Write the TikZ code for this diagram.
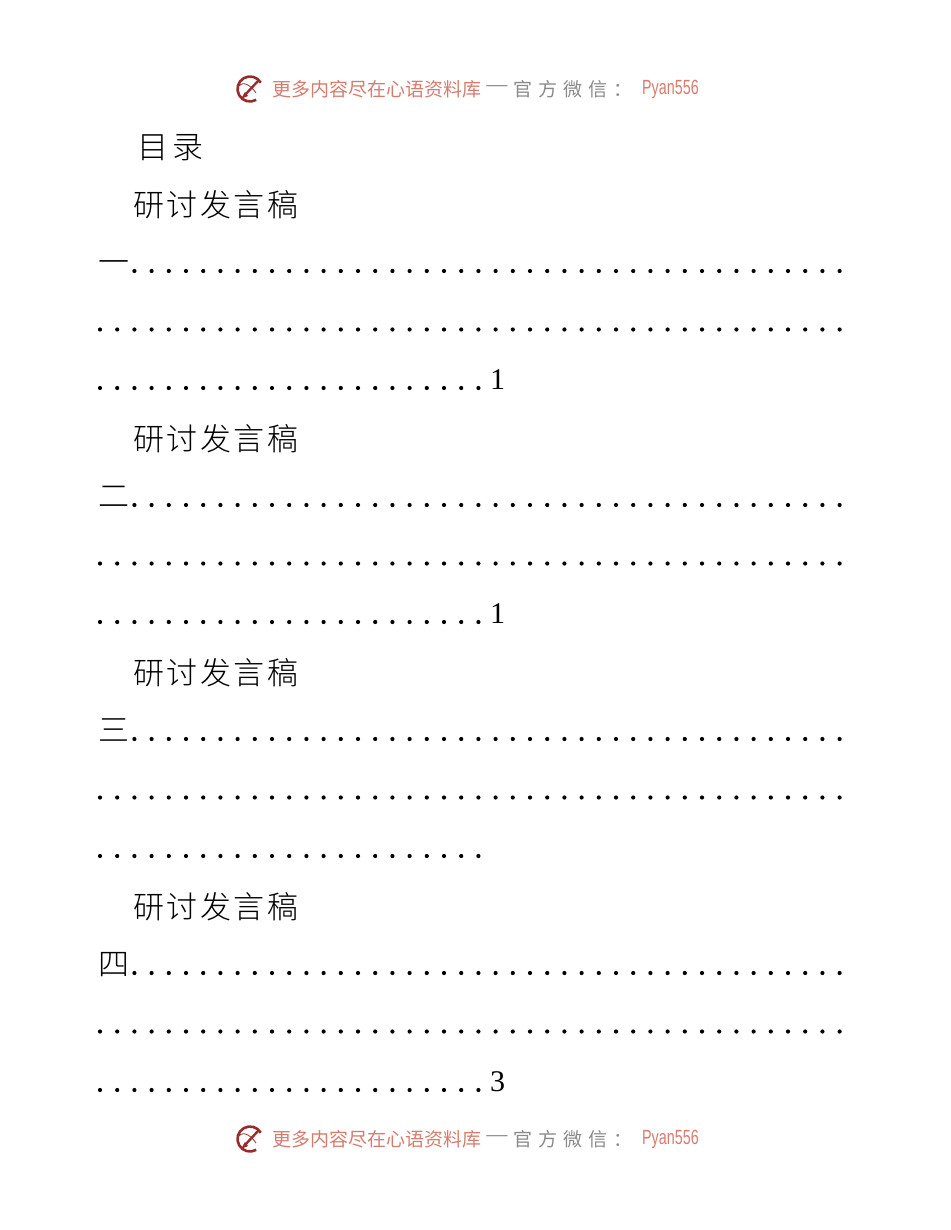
\documentclass[tikz,border=0pt]{standalone}
\usepackage{fontspec}
\setmainfont{Liberation Serif}
\newfontfamily\cjk{Noto Sans CJK SC Light}
\newfontfamily\cjkhd{Noto Sans CJK SC}
\newfontfamily\hdsans{Liberation Sans}
\definecolor{hdred}{HTML}{D67C6E}
\definecolor{hdgray}{HTML}{8A8A8A}
\definecolor{logored}{HTML}{9A2B2B}
\newcommand\cg{\kern2.5pt}
\begin{document}
\begin{tikzpicture}[x=1pt,y=-1pt,
  body/.style={inner sep=0pt, anchor=base west, font=\cjk\fontsize{31}{31}\selectfont},
  pagenum/.style={inner sep=0pt, anchor=base west, font=\fontsize{30}{30}\selectfont},
  hdtext/.style={inner sep=0pt, anchor=west, font=\cjkhd\fontsize{19}{19}\selectfont},
  leaderdot/.style={fill=black}]
\useasboundingbox (0,0) rectangle (950,1230);

% header and footer
\foreach \yy/\nm in {89/hd, 1139/ft} {
  \draw[logored, line width=2.6pt] (250,\yy) ++(60:12.5) arc[start angle=60, end angle=330, radius=12.5];
  \draw[logored, line width=2.4pt, line cap=round] (244,\yy+7) -- (258,\yy-8);
  \fill[logored] (241,\yy+10) -- (245,\yy+3) -- (248,\yy+7) -- cycle;
  \draw[logored, line width=0.8pt] (239,\yy-3) .. controls (244,\yy-9) and (252,\yy-2) .. (256,\yy+4);
  \node[hdtext, text=hdred] (\nm-a) at (272,\yy) {更多内容尽在心语资料库};
  \node[hdtext, text=hdgray, xscale=1.4] (\nm-b) at (485,\yy) {—};
  \node[hdtext, text=hdgray] (\nm-c) at (513,\yy) {官\kern6pt 方\kern6pt 微\kern6pt 信\kern6pt ：};
  \node[inner sep=0pt, anchor=west, text=hdred, xscale=0.7, font=\hdsans\fontsize{20.5}{20.5}\selectfont] (\nm-d) at (642,\yy+0.5) {Pyan556};
}

% title
\node[body] (title) at (137,159) {目\kern4pt 录};

% sections
\foreach \k/\ord/\pg in {0/一/1, 1/二/1, 2/三/, 3/四/3} {
  \pgfmathsetmacro\ya{271+234*\k}
  \pgfmathsetmacro\yb{\ya+58.5}
  \pgfmathsetmacro\yc{\ya+117}
  \pgfmathsetmacro\yt{\ya-54.5}
  \node[body] (head\k) at (133,\yt) {研\cg 讨\cg 发\cg 言\cg 稿};
  \node[body] (ord\k) at (98,\ya+2.5) {\ord};
  \foreach \i in {2,...,43} \fill[leaderdot] (100+17.2*\i,\ya) circle (2.1);
  \foreach \i in {0,...,43} \fill[leaderdot] (100+17.2*\i,\yb) circle (2.1);
  \foreach \i in {0,...,22} \fill[leaderdot] (100+17.2*\i,\yc) circle (2.1);
  \node[pagenum] (pg\k) at (490,\yc+1.8) {\pg};
}
\end{tikzpicture}
\end{document}
